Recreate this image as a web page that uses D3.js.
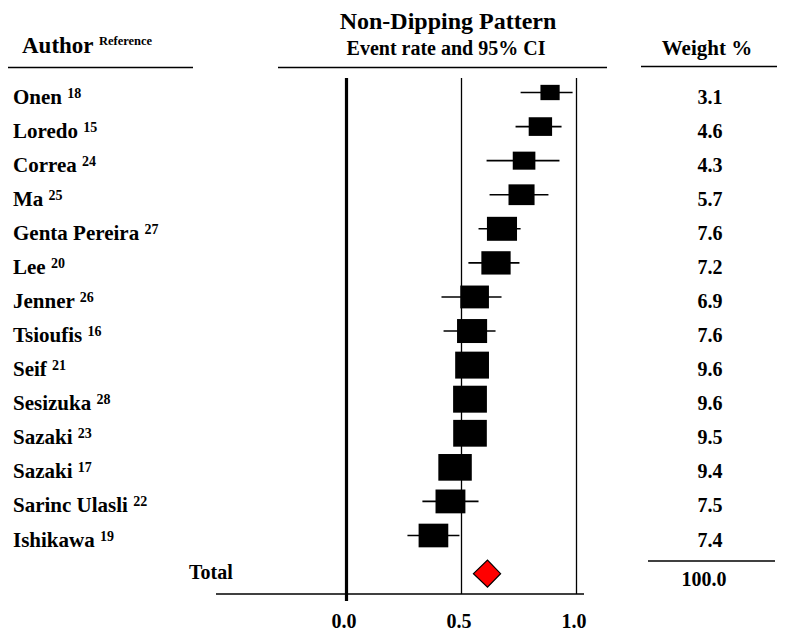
<!DOCTYPE html>
<html><head><meta charset="utf-8">
<script src="https://cdn.jsdelivr.net/npm/d3@7"></script>
<style>body{margin:0;background:#fff}svg text{font-family:"Liberation Serif","Times New Roman",serif;font-weight:bold;fill:#000}</style>
</head><body><svg id="c" width="786" height="637"></svg>
<script>
const authors = ["Onen","Loredo","Correa","Ma","Genta Pereira","Lee","Jenner","Tsioufis","Seif","Sesizuka","Sazaki","Sazaki","Sarinc Ulasli","Ishikawa"];
const refs = ["18","15","24","25","27","20","26","16","21","28","23","17","22","19"];
const rates = [0.885,0.843,0.772,0.761,0.676,0.650,0.557,0.546,0.546,0.537,0.537,0.472,0.452,0.378];
const lower = [0.757,0.735,0.609,0.622,0.574,0.530,0.413,0.422,0.500,0.490,0.490,0.420,0.330,0.265];
const upper = [0.983,0.935,0.926,0.878,0.757,0.752,0.674,0.648,0.590,0.580,0.580,0.520,0.574,0.491];
const weights = [3.1,4.6,4.3,5.7,7.6,7.2,6.9,7.6,9.6,9.6,9.5,9.4,7.5,7.4];
const total = {rate:0.613, lower:0.552, upper:0.670, weight:"100.0"};
const tickValues = [0, 0.5, 1.0];
const tickLabels = ["0.0","0.5","1.0"];

const svg = d3.select("#c");
const x = d3.scaleLinear().domain([0,1]).range([346.5,576.5]);
const y = d3.scaleLinear().domain([0,13]).range([92.5,535.5]);
const bw = d3.scaleSqrt().domain([0,10]).range([0,34.5]);
const bh = d3.scaleSqrt().domain([0,10]).range([0,27.5]);
const totalY = y(14.12);
const axisY = 594;

// header
svg.append("text").attr("x",448).attr("y",29).attr("text-anchor","middle").attr("font-size",24).text("Non-Dipping Pattern");
svg.append("text").attr("x",446).attr("y",55).attr("text-anchor","middle").attr("font-size",20).text("Event rate and 95% CI");
const ah = svg.append("text").attr("x",22).attr("y",53).attr("font-size",23);
ah.append("tspan").text("Author ");
ah.append("tspan").attr("font-size",12.5).attr("dy",-8).text("Reference");
svg.append("text").attr("x",707).attr("y",55).attr("text-anchor","middle").attr("font-size",21).text("Weight %");
svg.append("line").attr("x1",8).attr("x2",193).attr("y1",67.5).attr("y2",67.5).attr("stroke","#000").attr("stroke-width",1.5);
svg.append("line").attr("x1",278).attr("x2",607).attr("y1",67.5).attr("y2",67.5).attr("stroke","#000").attr("stroke-width",1.5);
svg.append("line").attr("x1",641).attr("x2",777).attr("y1",66.5).attr("y2",66.5).attr("stroke","#000").attr("stroke-width",1.5);

// reference lines
svg.selectAll("line.ref").data(tickValues).enter().append("line")
  .attr("x1",d=>x(d)).attr("x2",d=>x(d))
  .attr("y1",78).attr("y2",d=>d===0?601:axisY)
  .attr("stroke","#000").attr("stroke-width",d=>d===0?3.2:1.3);

// axis
const axis = d3.axisBottom(x).tickValues(tickValues).tickFormat((d,i)=>tickLabels[i]).tickSize(0).tickPadding(20);
const ag = svg.append("g").attr("transform",`translate(0,${axisY})`).call(axis);
ag.select(".domain").remove();
ag.selectAll("text").attr("font-size",20).attr("font-family","Liberation Serif").attr("font-weight","bold").attr("fill","#000").attr("dx",-3);
svg.append("line").attr("x1",216).attr("x2",584).attr("y1",axisY).attr("y2",axisY).attr("stroke","#000").attr("stroke-width",1.5);

// rows
const rows = authors.map((a,i)=>({a,ref:refs[i],r:rates[i],lo:lower[i],hi:upper[i],w:weights[i],i}));
const g = svg.selectAll("g.row").data(rows).enter().append("g");
g.append("line").attr("x1",d=>x(d.lo)).attr("x2",d=>x(d.hi)).attr("y1",d=>y(d.i)).attr("y2",d=>y(d.i)).attr("stroke","#000").attr("stroke-width",1.6);
g.append("rect").attr("x",d=>x(d.r)-bw(d.w)/2).attr("y",d=>y(d.i)-bh(d.w)/2).attr("width",d=>bw(d.w)).attr("height",d=>bh(d.w)).attr("fill","#000");
const lt = g.append("text").attr("x",13).attr("y",d=>y(d.i)+11).attr("font-size",21);
lt.append("tspan").text(d=>d.a+" ");
lt.append("tspan").attr("font-size",14).attr("dy",-6).text(d=>d.ref);
g.append("text").attr("x",710).attr("y",d=>y(d.i)+11).attr("text-anchor","middle").attr("font-size",20).text(d=>d.w.toFixed(1));

// total
svg.append("text").attr("x",189).attr("y",totalY+5).attr("font-size",20).text("Total");
const half = (x(total.upper)-x(total.lower))/2;
svg.append("path")
  .attr("d",`M${x(total.lower)},${totalY}L${x(total.rate)},${totalY-half}L${x(total.upper)},${totalY}L${x(total.rate)},${totalY+half}Z`)
  .attr("fill","#ff0000").attr("stroke","#000").attr("stroke-width",1.2);
svg.append("line").attr("x1",648).attr("x2",775).attr("y1",561).attr("y2",561).attr("stroke","#000").attr("stroke-width",1.5);
svg.append("text").attr("x",704).attr("y",586).attr("text-anchor","middle").attr("font-size",20).text(total.weight);
</script></body></html>
